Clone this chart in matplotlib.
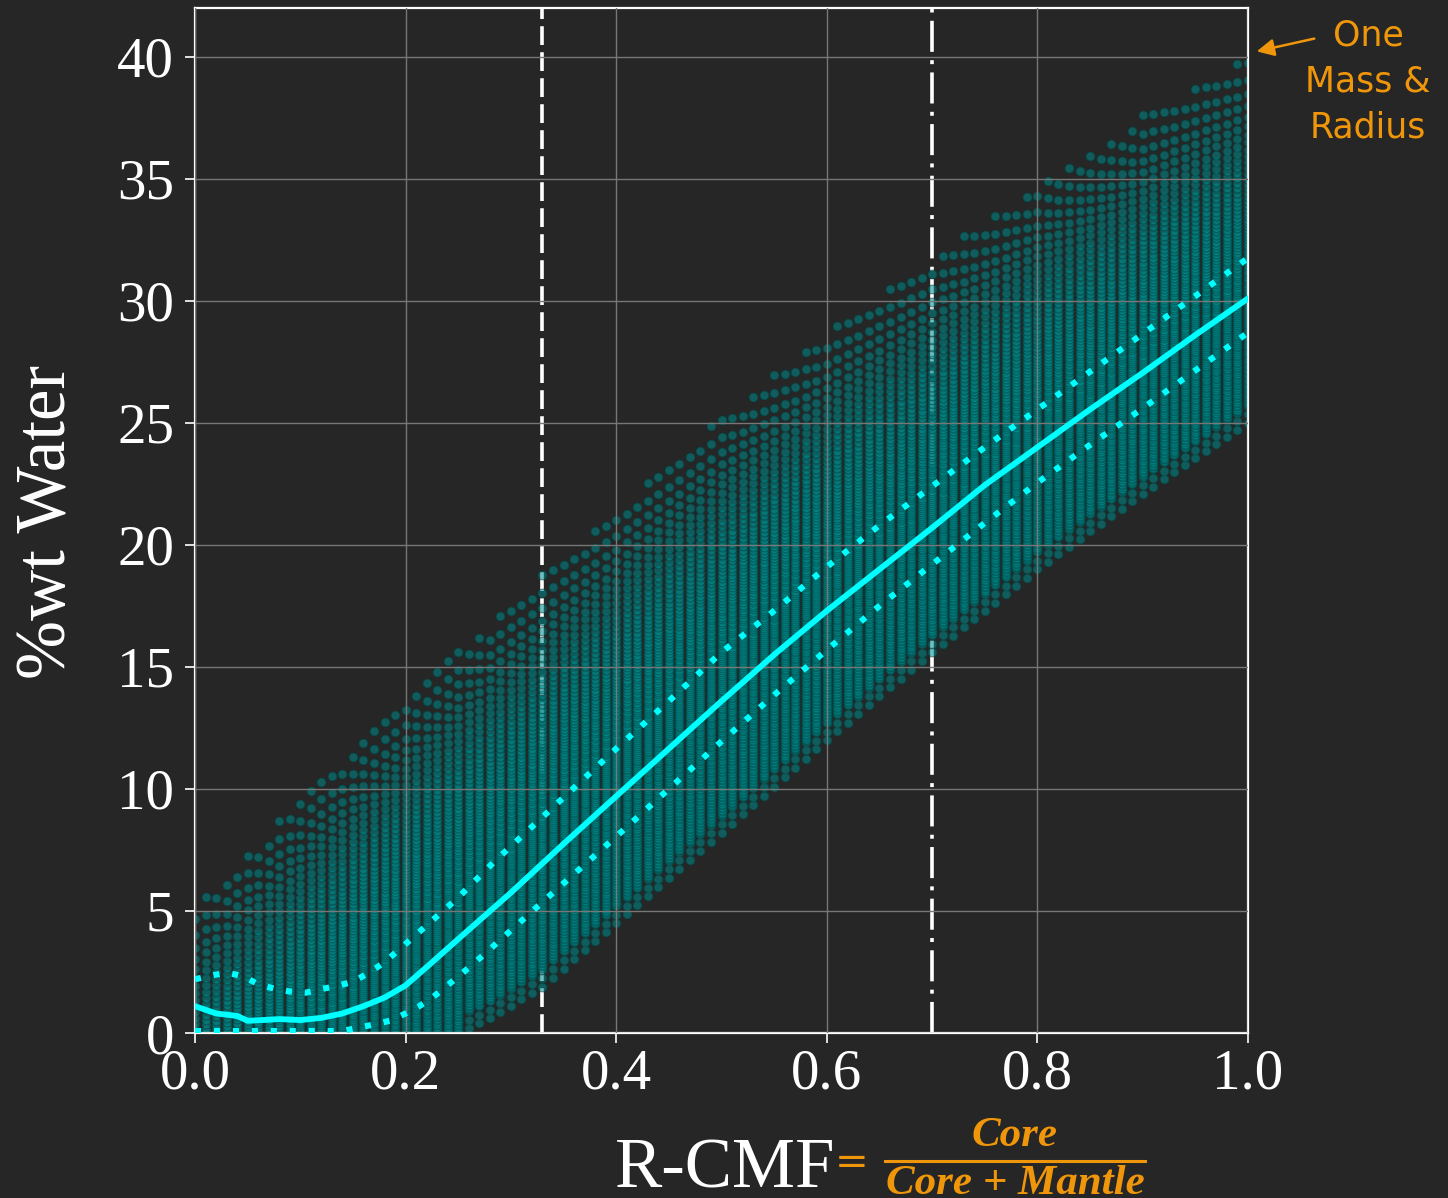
import numpy as np
import matplotlib
matplotlib.use("Agg")
import matplotlib.pyplot as plt

BG = "#262626"
ORANGE = "#f0960a"
TEAL = "#008b8b"

# scatter columns (R-CMF grid of the models)
rcmf_cols = np.round(np.arange(0, 1.0001, 0.01), 2)

# envelope of the scatter
env_x = [0.0, 0.1, 0.2, 0.25, 0.28, 0.33, 0.4, 0.5, 0.6, 0.7, 0.8, 0.9, 1.0]
env_low = [0.0, 0.0, 0.0, 0.0, 0.6, 1.9, 4.5, 8.2, 12.0, 15.6, 19.0, 22.1, 25.0]
env_high = [5.3, 9.6, 13.8, 15.7, 16.8, 18.8, 21.5, 25.3, 28.7, 31.8, 34.8, 37.6, 40.0]

# median line
med_x = [0.0, 0.02, 0.04, 0.05, 0.06, 0.08, 0.10, 0.12, 0.14, 0.16, 0.18, 0.20, 0.22,
         0.25, 0.30, 0.35, 0.40, 0.45, 0.50, 0.55, 0.60, 0.65, 0.70, 0.75, 0.80, 0.85,
         0.90, 0.95, 1.0]
med_y = [1.1, 0.8, 0.7, 0.5, 0.52, 0.57, 0.53, 0.62, 0.8, 1.1, 1.45, 1.95, 2.7,
         3.85, 5.75, 7.75, 9.7, 11.65, 13.6, 15.5, 17.3, 19.0, 20.7, 22.45, 24.0, 25.55,
         27.05, 28.6, 30.1]

# upper and lower percentile lines
up_x = [0.0, 0.015, 0.03, 0.045, 0.06, 0.075, 0.09, 0.105, 0.12, 0.135, 0.15, 0.165,
        0.18, 0.2, 0.225, 0.25, 0.283, 0.33, 0.4, 0.45, 0.5, 0.55, 0.6, 0.65, 0.7,
        0.75, 0.8, 0.85, 0.9, 0.95, 1.0]
up_y = [2.2, 2.35, 2.47, 2.34, 2.0, 1.82, 1.7, 1.65, 1.8, 1.93, 2.1, 2.46,
        2.9, 3.65, 4.6, 5.55, 6.97, 8.85, 11.65, 13.6, 15.6, 17.3, 19.1, 20.8, 22.4,
        24.0, 25.55, 27.1, 28.65, 30.2, 31.75]

lo_x = [0.0, 0.14, 0.153, 0.17, 0.185, 0.2, 0.213, 0.226, 0.238, 0.25, 0.262, 0.274,
        0.333, 0.4, 0.45, 0.5, 0.55, 0.6, 0.65, 0.7, 0.75, 0.8, 0.85, 0.9, 0.95, 1.0]
lo_y = [0.08, 0.08, 0.2, 0.35, 0.5, 0.8, 1.1, 1.47, 1.89, 2.31, 2.75, 3.2,
        5.48, 8.05, 10.0, 11.95, 13.85, 15.7, 17.5, 19.2, 20.9, 22.55, 24.1, 25.6, 27.15, 28.7]

xticks = [0.0, 0.2, 0.4, 0.6, 0.8, 1.0]
yticks = [0, 5, 10, 15, 20, 25, 30, 35, 40]


def column_points(lo, hi):
    # dense near the bottom, sparser towards the top of each column
    ys = []
    if lo > 0:
        ys += [lo, lo + 0.35]
        y = lo + 0.7
    else:
        y = 0.0
    while y <= hi:
        ys.append(y)
        y += 0.06 + 0.9 * np.exp(-(hi - y) / 2.8)
    return ys


W, H = 1448, 1198
fig = plt.figure(figsize=(W / 100, H / 100), dpi=100, facecolor=BG)
ax = fig.add_axes([195 / W, 1 - 1033 / H, 1053 / W, 1025 / H], facecolor=BG)

col_lo = np.interp(rcmf_cols, env_x, env_low)
col_hi = np.interp(rcmf_cols, env_x, env_high)
px, py = [], []
for xc, lo, hi in zip(rcmf_cols, col_lo, col_hi):
    ys = column_points(lo, hi)
    px += [xc] * len(ys)
    py += ys

ax.axvline(0.33, color="white", lw=2.6, ls=(0, (5.2, 2.0)), zorder=0.8)
ax.axvline(0.70, color="white", lw=2.6, ls=(0, (8.6, 2.3, 1.1, 2.3)), zorder=0.8)

ax.scatter(px, py, s=40, facecolor=TEAL, edgecolor="#004545", linewidths=0.8,
           alpha=0.55, zorder=1)

ax.plot(med_x, med_y, color="#00ffff", lw=4.2, solid_capstyle="round", zorder=3)
ax.plot(up_x, up_y, color="#00ffff", lw=4.4, ls=(0, (1, 2.1)), zorder=3)
ax.plot(lo_x, lo_y, color="#00ffff", lw=4.4, ls=(0, (1, 2.1)), zorder=3)

ax.set_xlim(0, 1)
ax.set_ylim(0, 42)
ax.set_xticks(xticks, ["%.1f" % v for v in xticks])
ax.set_yticks(yticks, [str(v) for v in yticks])
ax.grid(True, color="#777777", lw=1.0)
ax.set_axisbelow(False)
for sp in ax.spines.values():
    sp.set_color("white")
    sp.set_linewidth(1.6)
ax.tick_params(colors="white", length=7, width=1.2, direction="out")
ax.tick_params(axis="x", pad=4)
ax.tick_params(axis="y", pad=8)
for lab in ax.get_xticklabels() + ax.get_yticklabels():
    lab.set_fontfamily("Liberation Serif")
    lab.set_fontsize(41)
    lab.set_color("white")

# axis titles
fig.text(48 / W, 1 - 522 / H, "%wt Water", rotation=90, ha="center", va="center",
         color="white", fontsize=51, family="Liberation Serif")
fig.text(615 / W, 1 - 1187 / H, "R-CMF", ha="left", va="baseline",
         color="white", fontsize=51, family="Liberation Serif")
fig.text(852 / W, 1 - 1174 / H, "=", ha="center", va="baseline",
         color=ORANGE, fontsize=29, family="DejaVu Sans")
fig.text(1015 / W, 1 - 1146 / H, "Core", ha="center", va="baseline", color=ORANGE,
         fontsize=31, family="Liberation Serif", style="italic", weight="bold")
fig.text(1015 / W, 1 - 1194 / H, "Core + Mantle", ha="center", va="baseline", color=ORANGE,
         fontsize=31, family="Liberation Serif", style="italic", weight="bold")
fig.add_artist(plt.Line2D([885 / W, 1145 / W], [1 - 1161 / H, 1 - 1161 / H],
                          color=ORANGE, lw=2.2, transform=fig.transFigure))

# side note
for txt, base in [("One", 45), ("Mass &", 92), ("Radius", 137)]:
    fig.text(1368 / W, 1 - base / H, txt, ha="center", va="baseline",
             color=ORANGE, fontsize=25, family="DejaVu Sans")
ax.annotate("", xy=(1254 / W, 1 - 52 / H), xycoords="figure fraction",
            xytext=(1317 / W, 1 - 38 / H), textcoords="figure fraction",
            arrowprops=dict(arrowstyle="-|>", color=ORANGE, lw=1.8, mutation_scale=26))

fig.savefig("out.png", dpi=100, facecolor=BG)
